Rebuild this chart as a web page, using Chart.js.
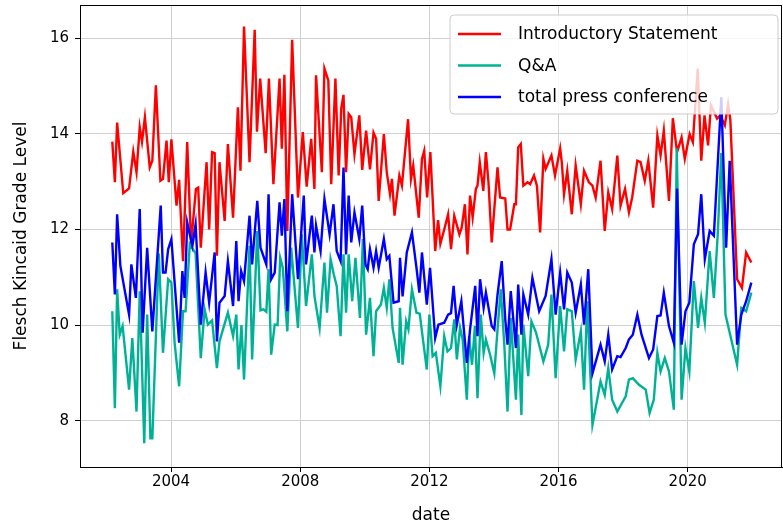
<!DOCTYPE html>
<html>
<head>
<meta charset="utf-8">
<script src="https://cdn.jsdelivr.net/npm/chart.js@4.4.1/dist/chart.umd.min.js"></script>
<style>
  html, body { margin: 0; padding: 0; background: #fff; }
  #wrap { width: 783px; height: 526px; }
</style>
</head>
<body>
<div id="wrap"><canvas id="myChartReadability"></canvas></div>
<script>
// dates as decimal years
const introYears = [2002.18,2002.26,2002.33,2002.52,2002.70,2002.83,2002.93,2003.03,2003.10,2003.19,2003.34,2003.42,2003.53,2003.67,2003.75,2003.86,2003.93,2004.01,2004.17,2004.25,2004.37,2004.50,2004.62,2004.77,2004.84,2004.92,2005.10,2005.18,2005.27,2005.35,2005.42,2005.50,2005.66,2005.76,2005.92,2006.07,2006.15,2006.26,2006.43,2006.59,2006.66,2006.76,2006.93,2007.03,2007.17,2007.36,2007.43,2007.51,2007.60,2007.75,2007.93,2008.08,2008.20,2008.34,2008.44,2008.49,2008.67,2008.75,2008.87,2008.96,2009.09,2009.19,2009.27,2009.34,2009.42,2009.50,2009.58,2009.68,2009.83,2009.92,2010.04,2010.16,2010.27,2010.35,2010.43,2010.59,2010.68,2010.78,2010.84,2010.92,2011.07,2011.15,2011.34,2011.43,2011.50,2011.67,2011.77,2011.84,2011.93,2012.03,2012.18,2012.27,2012.34,2012.46,2012.58,2012.67,2012.77,2012.93,2013.00,2013.10,2013.18,2013.26,2013.34,2013.44,2013.49,2013.56,2013.67,2013.75,2013.83,2013.93,2014.11,2014.19,2014.35,2014.42,2014.50,2014.63,2014.68,2014.75,2014.83,2014.91,2015.04,2015.12,2015.24,2015.33,2015.43,2015.53,2015.60,2015.78,2015.89,2016.05,2016.10,2016.17,2016.27,2016.41,2016.53,2016.69,2016.79,2016.94,2017.05,2017.15,2017.30,2017.43,2017.54,2017.66,2017.82,2017.92,2018.06,2018.18,2018.28,2018.44,2018.54,2018.67,2018.78,2018.93,2019.06,2019.16,2019.26,2019.42,2019.54,2019.67,2019.81,2019.91,2020.06,2020.16,2020.31,2020.42,2020.52,2020.63,2020.72,2020.91,2021.01,2021.15,2021.25,2021.32,2021.53,2021.68,2021.81,2021.97];
const introValues = [13.84,12.99,14.24,12.76,12.86,13.63,13.20,14.14,13.84,14.35,13.30,13.44,15.02,13.02,13.06,13.86,12.99,13.89,12.50,13.04,11.34,13.83,11.70,12.85,12.88,11.62,13.41,12.00,13.62,13.60,11.45,13.41,12.18,13.79,12.25,14.56,13.23,16.25,13.41,16.18,14.05,15.16,13.60,15.16,12.95,15.16,13.69,15.24,11.97,15.97,12.67,14.04,12.90,13.90,12.85,15.23,13.20,15.37,15.12,12.95,15.16,13.13,14.53,14.82,13.20,14.42,14.35,13.58,14.39,13.25,14.07,13.26,14.03,13.90,12.60,14.00,13.20,12.74,13.06,12.29,13.13,12.92,14.31,13.06,13.34,12.25,13.48,13.65,12.67,13.62,11.55,12.20,11.70,12.00,12.32,11.59,12.29,11.90,12.04,12.53,11.48,12.71,12.25,12.85,12.92,13.41,12.81,13.62,12.99,11.73,13.30,12.67,12.65,12.00,12.00,12.53,12.53,13.72,13.79,12.92,12.99,12.95,13.13,12.92,11.94,13.48,13.27,13.55,13.13,13.70,13.41,12.74,13.23,12.32,13.34,12.53,13.23,12.99,12.92,12.67,13.44,11.97,12.78,12.43,13.55,12.50,12.85,12.36,12.67,13.44,13.41,13.02,13.44,12.46,13.97,13.55,14.07,12.60,14.33,13.62,13.93,13.48,14.00,13.83,15.37,13.44,14.39,13.76,14.60,14.32,14.39,14.18,14.63,14.30,10.96,10.78,11.52,11.31];

const qaYears = [2002.18,2002.26,2002.33,2002.41,2002.50,2002.70,2002.80,2002.93,2003.03,2003.17,2003.26,2003.36,2003.42,2003.62,2003.75,2003.91,2004.01,2004.11,2004.25,2004.37,2004.45,2004.58,2004.76,2004.92,2005.04,2005.14,2005.27,2005.42,2005.50,2005.76,2005.92,2006.02,2006.09,2006.18,2006.26,2006.43,2006.51,2006.67,2006.77,2006.86,2006.95,2007.02,2007.10,2007.21,2007.30,2007.38,2007.46,2007.60,2007.72,2007.93,2008.05,2008.18,2008.36,2008.44,2008.60,2008.75,2008.83,2008.94,2009.04,2009.13,2009.25,2009.34,2009.42,2009.50,2009.61,2009.71,2009.85,2009.94,2010.04,2010.16,2010.27,2010.35,2010.50,2010.59,2010.68,2010.76,2010.86,2011.05,2011.09,2011.17,2011.28,2011.35,2011.46,2011.60,2011.70,2011.92,2012.00,2012.10,2012.20,2012.34,2012.46,2012.56,2012.67,2012.77,2012.85,2012.95,2013.03,2013.16,2013.23,2013.32,2013.41,2013.49,2013.59,2013.68,2013.75,2013.88,2014.01,2014.11,2014.21,2014.32,2014.42,2014.52,2014.68,2014.75,2014.85,2014.91,2015.06,2015.16,2015.30,2015.53,2015.68,2015.78,2015.91,2016.05,2016.17,2016.27,2016.41,2016.53,2016.69,2016.79,2016.89,2017.05,2017.30,2017.43,2017.54,2017.66,2017.82,2018.08,2018.18,2018.30,2018.49,2018.70,2018.82,2018.95,2019.06,2019.16,2019.29,2019.42,2019.57,2019.66,2019.81,2019.93,2020.05,2020.19,2020.32,2020.42,2020.53,2020.68,2020.81,2020.93,2021.04,2021.17,2021.53,2021.66,2021.81,2021.97];
const qaValues = [10.29,8.26,10.75,9.80,9.98,8.65,9.73,8.19,10.71,7.53,10.22,7.63,7.63,11.50,9.42,10.96,10.89,9.63,8.72,10.29,10.29,11.69,11.50,9.31,10.33,10.01,10.10,9.10,9.66,10.26,9.77,10.22,9.07,10.00,8.86,11.66,9.28,11.97,10.31,10.33,10.28,11.17,9.38,10.01,10.00,11.41,11.20,9.87,11.62,9.94,11.90,10.40,11.48,10.61,9.94,11.31,10.26,11.38,11.06,10.82,9.77,11.48,10.26,11.48,10.50,11.41,10.15,11.80,9.80,10.57,9.35,10.29,10.43,10.78,10.36,10.96,9.94,9.21,10.36,9.17,10.08,9.91,10.75,10.26,10.24,9.07,10.22,9.35,9.42,8.72,9.77,9.45,9.52,10.12,9.28,9.95,9.70,8.44,9.77,9.17,9.98,8.47,10.22,9.42,9.70,9.38,8.99,9.90,10.75,9.59,8.19,10.15,8.44,9.80,8.12,10.01,8.93,10.08,9.85,9.24,9.59,10.64,8.89,10.40,9.45,10.33,10.29,9.28,9.87,8.65,10.50,7.91,8.82,8.54,9.10,8.44,8.19,8.51,8.86,8.89,8.75,8.65,8.16,8.44,9.42,9.03,9.31,9.03,8.23,13.70,8.44,9.52,9.03,10.92,9.94,10.57,10.05,11.55,10.57,11.90,13.60,10.22,9.17,10.36,10.29,10.68];

const totalYears = [2002.18,2002.26,2002.33,2002.43,2002.70,2002.77,2002.91,2003.03,2003.12,2003.26,2003.42,2003.68,2003.75,2003.83,2003.91,2004.01,2004.25,2004.35,2004.42,2004.50,2004.66,2004.76,2004.92,2005.07,2005.18,2005.35,2005.42,2005.50,2005.66,2005.76,2005.92,2006.02,2006.09,2006.17,2006.26,2006.43,2006.51,2006.67,2006.77,2006.95,2007.02,2007.10,2007.21,2007.36,2007.43,2007.51,2007.60,2007.75,2007.93,2008.11,2008.18,2008.36,2008.44,2008.49,2008.63,2008.75,2008.91,2009.03,2009.13,2009.25,2009.34,2009.42,2009.50,2009.58,2009.68,2009.83,2009.92,2010.02,2010.09,2010.16,2010.27,2010.35,2010.43,2010.59,2010.68,2010.76,2010.89,2011.05,2011.09,2011.17,2011.30,2011.46,2011.60,2011.69,2011.77,2011.92,2012.02,2012.18,2012.28,2012.46,2012.58,2012.67,2012.75,2012.85,2012.99,2013.16,2013.26,2013.42,2013.49,2013.57,2013.68,2013.75,2013.93,2014.01,2014.11,2014.24,2014.35,2014.42,2014.52,2014.68,2014.75,2014.85,2014.91,2015.06,2015.19,2015.40,2015.60,2015.78,2015.91,2016.05,2016.17,2016.27,2016.41,2016.53,2016.69,2016.79,2016.92,2017.05,2017.30,2017.43,2017.54,2017.66,2017.82,2017.92,2018.08,2018.18,2018.30,2018.44,2018.57,2018.80,2018.93,2019.06,2019.16,2019.26,2019.42,2019.57,2019.67,2019.81,2019.93,2020.05,2020.19,2020.32,2020.42,2020.53,2020.68,2020.81,2021.04,2021.19,2021.30,2021.53,2021.66,2021.81,2021.97];
const totalValues = [11.73,10.64,12.32,11.24,10.22,11.27,10.57,12.43,9.84,11.62,9.87,12.50,11.10,11.10,11.59,11.80,9.63,11.13,10.57,12.15,11.66,12.11,10.01,11.10,10.47,11.52,9.66,10.47,10.61,11.34,10.40,11.76,10.50,11.13,10.92,12.29,11.27,12.60,11.62,11.27,12.74,10.96,11.10,12.57,11.87,12.64,10.29,12.74,10.96,12.71,11.27,12.29,11.52,12.08,11.55,12.64,11.90,12.53,11.55,11.34,13.30,11.48,12.71,11.73,12.36,11.80,12.50,11.27,11.17,11.59,11.20,11.55,11.20,11.80,11.38,11.45,10.47,10.50,11.41,10.60,11.52,11.94,11.20,10.68,11.52,10.43,11.20,9.73,10.01,10.05,10.22,10.25,10.82,10.01,10.50,9.21,9.91,10.82,9.77,10.96,10.36,10.68,9.98,9.91,10.64,11.34,10.12,9.59,10.71,9.52,10.85,9.80,10.64,10.22,10.99,10.29,10.61,11.38,10.22,11.10,10.33,11.10,10.89,10.26,10.85,10.01,11.17,8.99,9.59,9.24,9.80,9.07,9.35,9.33,9.52,9.70,9.80,10.22,9.80,9.31,9.49,10.19,10.20,10.68,9.98,9.63,12.86,9.59,10.29,10.47,11.69,11.90,12.74,11.38,11.97,11.87,14.77,11.62,13.44,9.59,10.22,10.50,10.89];

const seriesLabels = ['Introductory Statement', 'Q&A', 'total press conference'];
const seriesColors = ['#ff0000', '#00b295', '#0000ff'];
const xTicks = [2004, 2008, 2012, 2016, 2020];
const yTicks = [8, 10, 12, 14, 16];

const FONT = 'DejaVu Sans';

function pairs(xs, ys) {
  return xs.map((x, i) => ({ x: x, y: ys[i] }));
}

// full box round the plot (matplotlib spines) + legend inside, top right
const frameAndLegend = {
  id: 'frameAndLegend',
  afterDraw(chart) {
    const c = chart.ctx;
    const area = chart.chartArea;
    c.save();
    c.strokeStyle = '#000';
    c.lineWidth = 1;
    c.strokeRect(area.left + 0.5, area.top + 0.5, area.right - area.left - 1, area.bottom - area.top);

    const right = area.right - 4, top = area.top + 10;
    const w = 328, h = 99;
    const left = right - w;
    c.beginPath();
    c.roundRect(left, top, w, h, 4);
    c.fillStyle = 'rgba(255,255,255,0.8)';
    c.fill();
    c.strokeStyle = '#cccccc';
    c.stroke();
    c.font = '17px ' + FONT;
    c.textBaseline = 'middle';
    chart.data.datasets.forEach((ds, i) => {
      const y = top + 19 + i * 31.5;
      c.beginPath();
      c.moveTo(left + 8, y);
      c.lineTo(left + 51, y);
      c.strokeStyle = ds.borderColor;
      c.lineWidth = 2.4;
      c.stroke();
      c.fillStyle = '#000';
      c.fillText(ds.label, left + 68, y + 1);
    });
    c.restore();
  }
};

const ctx = document.getElementById('myChartReadability');

new Chart(ctx, {
  type: 'line',
  data: {
    datasets: [
      {
        label: seriesLabels[0],
        data: pairs(introYears, introValues),
        borderColor: seriesColors[0],
        backgroundColor: seriesColors[0],
        borderWidth: 2.4,
        pointRadius: 0,
        order: 3,
      },
      {
        label: seriesLabels[1],
        data: pairs(qaYears, qaValues),
        borderColor: seriesColors[1],
        backgroundColor: seriesColors[1],
        borderWidth: 2.4,
        pointRadius: 0,
        order: 2,
      },
      {
        label: seriesLabels[2],
        data: pairs(totalYears, totalValues),
        borderColor: seriesColors[2],
        backgroundColor: seriesColors[2],
        borderWidth: 2.4,
        pointRadius: 0,
        order: 1,
      },
    ]
  },
  options: {
    responsive: true,
    maintainAspectRatio: false,
    animation: false,
    layout: { padding: { top: 5, right: 1, left: 0, bottom: 0 } },
    plugins: {
      legend: { display: false },
      tooltip: { enabled: false },
    },
    scales: {
      x: {
        type: 'linear',
        min: 2001.18,
        max: 2022.92,
        afterBuildTicks: (scale) => { scale.ticks = xTicks.map(v => ({ value: v })); },
        afterFit: (scale) => {
          scale.height = 59;
          scale.paddingLeft = 0; scale.paddingRight = 0;
        },
        ticks: {
          color: '#000',
          font: { family: FONT, size: 15 },
          padding: 1,
          maxRotation: 0,
          callback: (v) => String(v),
        },
        grid: { color: '#d0d0d0', tickColor: '#000', tickLength: 5 },
        border: { color: '#000', width: 1 },
        title: {
          display: true,
          text: 'date',
          color: '#000',
          font: { family: FONT, size: 17 },
          padding: { top: 0, bottom: 0 },
        },
      },
      y: {
        min: 7.03,
        max: 16.7,
        afterBuildTicks: (scale) => { scale.ticks = yTicks.map(v => ({ value: v })); },
        afterFit: (scale) => {
          scale.width = 80;
          scale.paddingTop = 0; scale.paddingBottom = 0;
        },
        ticks: {
          color: '#000',
          font: { family: FONT, size: 15 },
          padding: 6,
          callback: (v) => String(v),
        },
        grid: { color: '#d0d0d0', tickColor: '#000', tickLength: 5 },
        border: { color: '#000', width: 1 },
        title: {
          display: true,
          text: 'Flesch Kincaid Grade Level',
          color: '#000',
          font: { family: FONT, size: 17 },
          padding: { top: 11, bottom: 0 },
        },
      }
    }
  },
  plugins: [frameAndLegend],
});
</script>
</body>
</html>
